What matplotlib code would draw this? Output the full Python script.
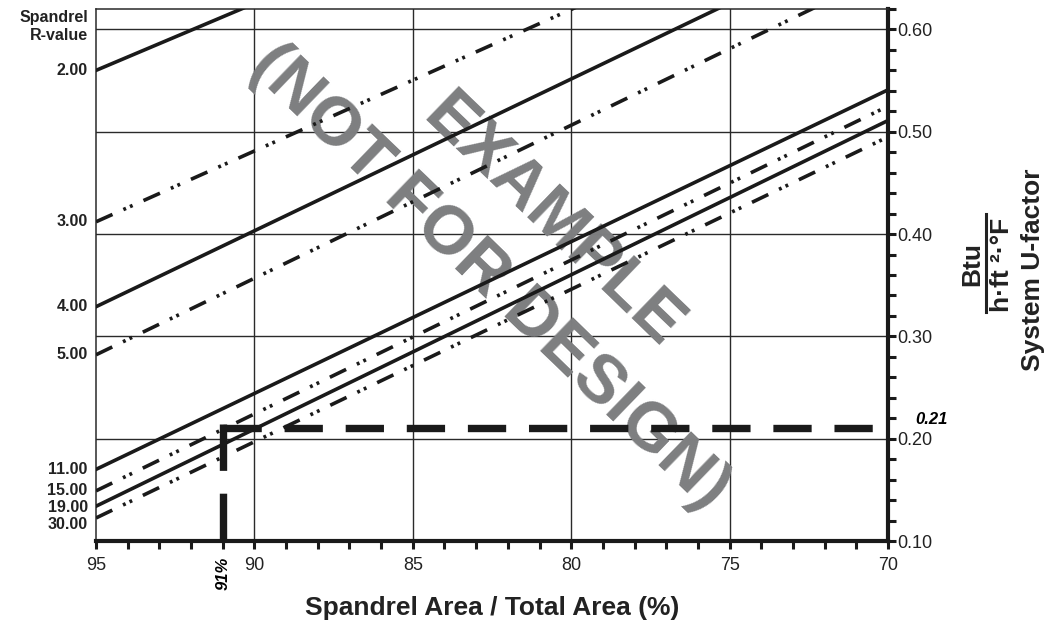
import matplotlib.pyplot as plt
from matplotlib.ticker import MultipleLocator, FixedLocator
from matplotlib.lines import Line2D

plt.rcParams['font.family'] = ['Liberation Sans', 'DejaVu Sans']

# spandrel R-value curves: system U-factor at 95 % and at 70 % spandrel area
r_values = ['2.00', '3.00', '4.00', '5.00', '11.00', '15.00', '19.00', '30.00']
u_at_95 = [0.560, 0.412, 0.329, 0.282, 0.170, 0.149, 0.134, 0.1225]
u_at_70 = [0.887, 0.758, 0.700, 0.656, 0.541, 0.525, 0.511, 0.495]
line_kind = ['solid', 'dashdot', 'solid', 'dashdot', 'solid', 'dashdot', 'solid', 'dashdot']
area_ends = [95, 70]

x_ticks = [95, 90, 85, 80, 75, 70]
u_ticks = [0.10, 0.20, 0.30, 0.40, 0.50, 0.60]

# worked example
example_area = 91
example_u = 0.21

fig = plt.figure(figsize=(10.47, 6.22), dpi=100)
ax = fig.add_axes([96 / 1047, 1 - 541 / 622, (888 - 96) / 1047, (541 - 9) / 622])
ax.set_xlim(95, 70)
ax.set_ylim(0.10, 0.62)

# grid
for x in x_ticks[1:-1]:
    ax.axvline(x, color='#2a2a2a', lw=1.0, zorder=1)
for u in u_ticks[1:]:
    ax.axhline(u, color='#2a2a2a', lw=1.0, zorder=1)

# watermark (under the lines)
wm = dict(transform=fig.transFigure, rotation=-44, rotation_mode='anchor',
          ha='center', va='center', color='#7d7e80', fontsize=49.5,
          fontweight='bold', zorder=1.5, clip_on=False)
ax.text(552 / 1047, 1 - 222 / 622, 'EXAMPLE', **wm)
ax.text(490 / 1047, 1 - 277 / 622, '(NOT FOR DESIGN)', **wm)

dash_dot_dot = (0, (5, 3.3, 0.8, 1.2, 0.8, 3.3))
for r, u0, u1, kind in zip(r_values, u_at_95, u_at_70, line_kind):
    ls = '-' if kind == 'solid' else dash_dot_dot
    ax.plot(area_ends, [u0, u1], color='#1a1a1a', lw=2.6, ls=ls,
            dash_capstyle='butt', zorder=3)

# R-value labels at the start of each line, spread so they don't collide
label_u = []
for u in u_at_95:
    if label_u and label_u[-1] - u < 0.0165:
        u = label_u[-1] - 0.0165
    label_u.append(u)
for r, u in zip(r_values, label_u):
    ax.annotate(r, xy=(95, u), xytext=(-6, 0), textcoords='offset points',
                ha='right', va='center', fontsize=11.5, fontweight='bold',
                color='#222222', annotation_clip=False)
ax.text(88 / 1047, 1 - 10 / 622, 'Spandrel\nR-value', transform=fig.transFigure,
        ha='right', va='top', fontsize=11.5, fontweight='bold', color='#222222',
        linespacing=1.25)

# example lines
ax.plot([example_area, area_ends[1]], [example_u, example_u], color='#1a1a1a',
        lw=5.3, ls=(0, (5.2, 3.1)), dash_capstyle='butt', zorder=4, clip_on=False)
ax.plot([example_area, example_area], [example_u + 0.004, 0.10], color='#1a1a1a',
        lw=5.3, ls=(0, (6.3, 3.1)), dash_capstyle='butt', zorder=4)
ax.annotate('%.2f' % example_u, xy=(70, example_u), xytext=(20, 1),
            textcoords='offset points', ha='left', va='bottom', fontsize=12,
            fontweight='bold', fontstyle='italic', annotation_clip=False)
ax.annotate('%d%%' % example_area, xy=(example_area, 0.10), xytext=(0, -11),
            textcoords='offset points', ha='center', va='top', rotation=90,
            fontsize=12, fontweight='bold', fontstyle='italic',
            annotation_clip=False)

# axes styling
for side in ['left', 'top']:
    ax.spines[side].set_linewidth(1.1)
    ax.spines[side].set_color('#2a2a2a')
for side in ['bottom', 'right']:
    ax.spines[side].set_linewidth(3.0)
    ax.spines[side].set_color('#1a1a1a')

ax.yaxis.tick_right()
ax.yaxis.set_major_locator(FixedLocator(u_ticks))
ax.yaxis.set_minor_locator(MultipleLocator(0.02))
ax.set_yticklabels(['%.2f' % u for u in u_ticks])
ax.xaxis.set_major_locator(FixedLocator(x_ticks))
ax.xaxis.set_minor_locator(MultipleLocator(1))
ax.tick_params(axis='both', which='both', direction='out', length=5.5,
               width=2.2, color='#1a1a1a', labelsize=13, labelcolor='#222222')
ax.tick_params(axis='y', which='both', pad=1)
ax.tick_params(axis='x', which='both', pad=6)

ax.set_xlabel('Spandrel Area / Total Area (%)', fontsize=19, fontweight='bold',
              color='#222222', labelpad=16)

# right axis title: Btu / (h·ft²·°F) over System U-factor
fig.text(972 / 1047, 1 - 264 / 622, 'Btu', rotation=90, ha='center', va='center',
         fontsize=19, fontweight='bold', color='#222222')
fig.add_artist(Line2D([986 / 1047, 986 / 1047], [1 - 214 / 622, 1 - 312 / 622],
                      transform=fig.transFigure, color='#222222', lw=2.2))
fig.text(1002 / 1047, 1 - 312 / 622, 'h·ft ²·°F', rotation=90, ha='center',
         va='bottom', fontsize=19, fontweight='bold', color='#222222')
fig.text(1033 / 1047, 1 - 270 / 622, 'System U-factor', rotation=90, ha='center',
         va='center', fontsize=19, fontweight='bold', color='#222222')

fig.savefig('out.png', dpi=100)
